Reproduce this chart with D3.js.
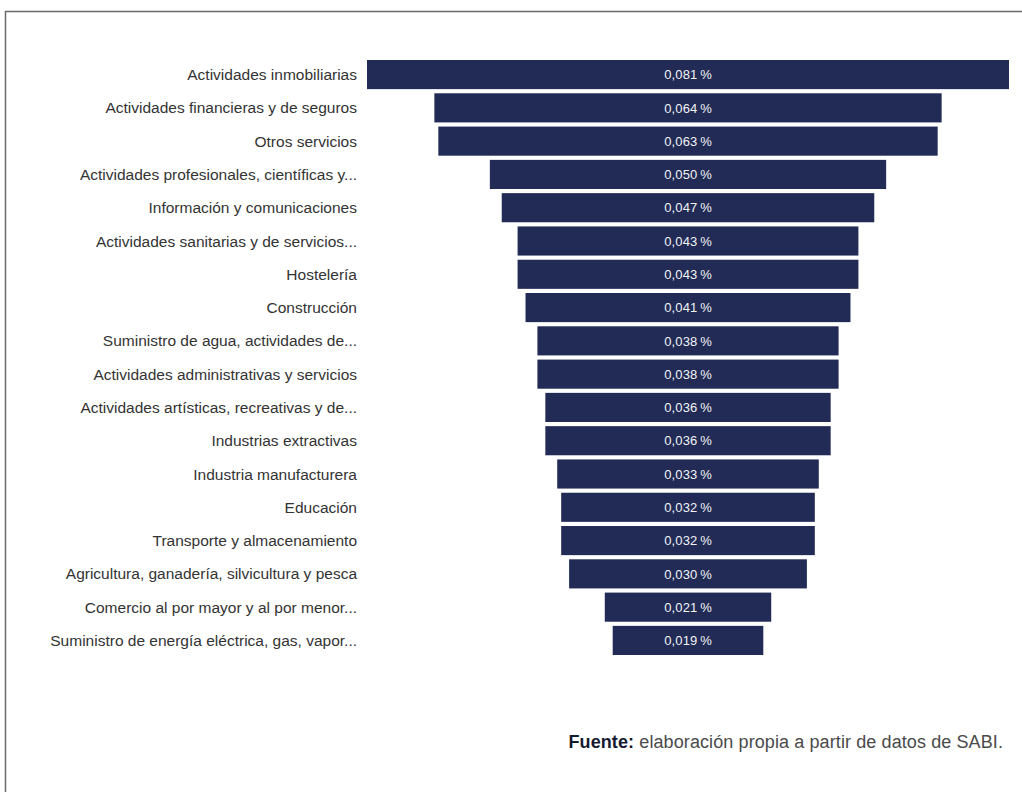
<!DOCTYPE html>
<html>
<head>
<meta charset="utf-8">
<script src="https://cdn.jsdelivr.net/npm/d3@7"></script>
<style>
  html, body { margin: 0; padding: 0; background: #fff; }
  svg { display: block; }
</style>
</head>
<body>
<svg id="chart" width="1022" height="792"></svg>
<script>
// Sectors, ordered from highest to lowest share
const categories = [
  "Actividades inmobiliarias",
  "Actividades financieras y de seguros",
  "Otros servicios",
  "Actividades profesionales, científicas y...",
  "Información y comunicaciones",
  "Actividades sanitarias y de servicios...",
  "Hostelería",
  "Construcción",
  "Suministro de agua, actividades de...",
  "Actividades administrativas y servicios",
  "Actividades artísticas, recreativas y de...",
  "Industrias extractivas",
  "Industria manufacturera",
  "Educación",
  "Transporte y almacenamiento",
  "Agricultura, ganadería, silvicultura y pesca",
  "Comercio al por mayor y al por menor...",
  "Suministro de energía eléctrica, gas, vapor..."
];

// Percentage values per sector
const values = [
  0.081, 0.064, 0.063, 0.050, 0.047, 0.043, 0.043, 0.041, 0.038,
  0.038, 0.036, 0.036, 0.033, 0.032, 0.032, 0.030, 0.021, 0.019
];

const sourceLabel = "Fuente:";
const sourceText = " elaboración propia a partir de datos de SABI.";

const svg = d3.select("#chart");
const font = "'Liberation Sans', Arial, Helvetica, sans-serif";

// Frame around the figure (open on the right and bottom)
svg.append("path")
  .attr("d", "M5.5,792 L5.5,11.5 L1022,11.5")
  .attr("fill", "none")
  .attr("stroke", "#6b6b6b")
  .attr("stroke-width", 1.5);

const centerX = 688;
const plotTop = 60, plotBottom = 655;

const y = d3.scaleBand()
  .domain(categories)
  .range([plotTop - 2, plotBottom + 2])
  .paddingInner(0.125)
  .paddingOuter(0.06);

const w = d3.scaleLinear()
  .domain([0, d3.max(values)])
  .range([0, 642]);

const data = categories.map((c, i) => ({ cat: c, val: values[i] }));

const fmt = v => d3.format(".3f")(v).replace(".", ",") + "\u2009%";

const rows = svg.append("g").selectAll("g")
  .data(data)
  .join("g");

// Funnel bars, centred on a common axis
rows.append("rect")
  .attr("x", d => centerX - w(d.val) / 2)
  .attr("y", d => y(d.cat))
  .attr("width", d => w(d.val))
  .attr("height", y.bandwidth())
  .attr("fill", "#212b55");

// Value labels inside bars
rows.append("text")
  .attr("x", centerX)
  .attr("y", d => y(d.cat) + y.bandwidth() / 2)
  .attr("dy", "0.36em")
  .attr("text-anchor", "middle")
  .attr("font-family", font)
  .attr("font-size", 13)
  .attr("letter-spacing", 0.15)
  .attr("fill", "#f2f3f7")
  .text(d => fmt(d.val));

// Category labels, right aligned
rows.append("text")
  .attr("x", 357)
  .attr("y", d => y(d.cat) + y.bandwidth() / 2)
  .attr("dy", "0.36em")
  .attr("text-anchor", "end")
  .attr("font-family", font)
  .attr("font-size", 15.5)
  .attr("fill", "#333333")
  .text(d => d.cat);

// Source note
const src = svg.append("text")
  .attr("x", 1003)
  .attr("y", 748)
  .attr("text-anchor", "end")
  .attr("font-family", font)
  .attr("font-size", 18)
  .attr("letter-spacing", 0.1)
  .attr("fill", "#4a4a4a");
src.append("tspan")
  .attr("font-weight", "bold")
  .attr("fill", "#151a30")
  .text(sourceLabel);
src.append("tspan").text(sourceText);
</script>
</body>
</html>
